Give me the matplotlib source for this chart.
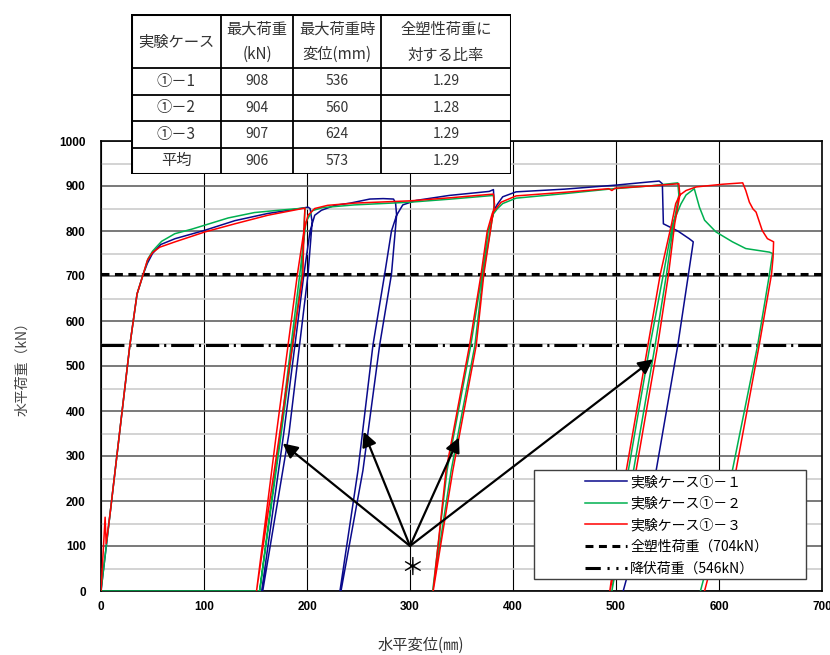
import matplotlib
matplotlib.use("Agg")
import matplotlib.pyplot as plt
from matplotlib.lines import Line2D
from matplotlib.patches import Rectangle

plt.rcParams["font.family"] = ["Noto Sans CJK JP", "DejaVu Sans"]

# ── data ────────────────────────────────────────────────────────────────────
# case ①-1 (blue)
x_c1 = [0, 20, 28, 35, 41, 45, 50, 58, 72, 100, 130, 162, 185, 201, 203, 205,
        201, 182.5, 157, 156, 177.4, 197, 203, 207.5, 214, 227, 242, 261, 274,
        284, 286, 287, 282, 270.5, 254.3, 233, 232, 249.5, 264, 275.4, 282,
        287, 293, 306, 338, 377, 381, 382, 385, 390, 403, 450, 500, 532, 542,
        545, 546, 560, 571, 575, 574, 560, 539, 507]
y_c1 = [0, 390, 546, 660, 704, 728, 750, 770, 783, 801, 823, 839, 847, 853, 850, 820,
        704, 350, 0, 0, 350, 704, 800, 835, 846, 857, 862, 871, 872,
        871, 862, 835, 704, 546, 268, 0, 0, 268, 546, 704, 800,
        835, 858, 868, 879, 888, 892, 848, 860, 876, 887, 893, 902, 909, 911,
        905, 816, 800, 783, 776, 760, 546, 268, 0]

# case ①-2 (green)
x_c2 = [154, 0, 20, 28, 35, 41, 45.8, 50, 58.8, 71.7, 88, 100.8, 123.5, 149, 172,
        198, 197, 195, 175, 154, 174, 193, 199, 205, 215, 246, 300, 340, 381,
        382, 371, 363, 340, 322, 336, 359, 370, 376, 381, 385, 390, 403, 450,
        493, 532, 560, 561, 556, 549, 538, 517, 496, 512, 533, 546, 555, 563,
        568, 576, 581, 586, 597, 613, 626, 649, 652, 649, 637.5, 613, 582]
y_c2 = [0, 0, 390, 546, 660, 704, 739, 755, 777, 794, 804, 813, 829, 841, 846,
        851, 800, 704, 350, 0, 350, 704, 820, 845, 852, 858, 864, 871, 879,
        858, 704, 546, 268, 0, 268, 546, 704, 800, 838, 850, 861, 873, 883,
        893, 900, 907, 880, 816, 704, 546, 268, 0, 268, 546, 704, 816, 860,
        880, 894, 853, 824, 798, 776, 761, 753, 750, 704, 546, 268, 0]

# case ①-3 (red)
x_c3 = [0, 4, 5, 9, 20, 28, 35, 41, 45, 50, 57, 72, 101, 130, 162, 198,
        197, 196, 173.5, 151, 170.3, 190.7, 197, 201, 207.5, 220, 246, 300, 340, 381,
        382, 371.7, 364.3, 341.6, 322.5, 335, 357.8, 369, 375, 380, 383.7, 388.5,
        403, 450, 493, 496, 499, 532, 561, 562, 557, 551, 540.5, 519.5, 494,
        510, 531, 543, 554, 558, 562, 568, 578, 604, 623, 626, 629.5, 633, 636,
        642, 647, 653, 652.5, 651, 639, 616.5, 586]
y_c3 = [0, 164, 105, 175, 390, 546, 660, 704, 735, 752, 764, 776, 798, 816, 835, 851,
        800, 704, 350, 0, 350, 704, 800, 835, 850, 857, 862, 867, 874, 882,
        860, 704, 546, 268, 0, 268, 546, 704, 800, 840, 850, 864,
        878, 886, 894, 890, 895, 900, 905, 880, 816, 704, 546, 268, 0,
        268, 546, 704, 816, 861, 880, 890, 898, 904, 907, 890, 864, 849, 842,
        801, 783, 776, 742, 704, 546, 268, 0]

full_plastic = 704
yield_load = 546

# arrows: common origin and the tips they point to
arrow_origin = (300, 100)
arrow_tips = [(176.5, 328), (255, 354), (347.5, 341), (536, 515)]

# summary table
table_header = ["実験ケース", "最大荷重\n(kN)", "最大荷重時\n変位(mm)", "全塑性荷重に\n対する比率"]
case_names = ["①－1", "①－2", "①－3", "平均"]
max_load = ["908", "904", "907", "906"]
max_disp = ["536", "560", "624", "573"]
ratio = ["1.29", "1.28", "1.29", "1.29"]

BLUE = "#0a0a8c"
GREEN = "#00b050"
RED = "#ff0000"

# ── figure ──────────────────────────────────────────────────────────────────
W, H = 830, 655
fig = plt.figure(figsize=(W / 100, H / 100), dpi=100)
ax = fig.add_axes([101 / W, 1 - 591 / H, 721 / W, 450 / H])

ax.set_xlim(0, 700)
ax.set_ylim(0, 1000)
ax.set_xticks(range(0, 701, 100))
ax.set_yticks(range(0, 1001, 100))
ax.set_yticks(range(50, 1000, 100), minor=True)
ax.grid(axis="y", which="minor", color="#c8c8c8", lw=1.1, zorder=0)
ax.grid(axis="y", which="major", color="#555555", lw=1.1, zorder=0)
ax.grid(axis="x", which="major", color="black", lw=0.8, zorder=0)
ax.tick_params(which="both", length=0)
ax.tick_params(axis="y", pad=11)
ax.tick_params(axis="x", pad=7)
for lab in ax.get_xticklabels() + ax.get_yticklabels():
    lab.set_family("Liberation Sans")
    lab.set_fontweight("bold")
    lab.set_fontsize(8.5)
for s in ax.spines.values():
    s.set_color("black")
    s.set_linewidth(1.2)

ax.plot(x_c1, y_c1, color=BLUE, lw=1.1, zorder=3)
ax.plot(x_c2, y_c2, color=GREEN, lw=1.1, zorder=3)
ax.plot(x_c3, y_c3, color=RED, lw=1.1, zorder=3)

ax.axhline(full_plastic, color="black", lw=2.2, ls=(0, (2.6, 1.8)), zorder=2)
ax.axhline(yield_load, color="black", lw=2.2, ls=(0, (7.5, 1.6, 0.7, 1.6)), zorder=2)

for tip in arrow_tips:
    ax.annotate("", xy=tip, xytext=arrow_origin,
                arrowprops=dict(arrowstyle="-|>", color="black", lw=1.6,
                                mutation_scale=22, shrinkA=0, shrinkB=0),
                zorder=4)
ax.text(arrow_origin[0] + 2, 50, "＊", fontsize=17, ha="center", va="center", zorder=4)

# legend: frame drawn as its own box, entries placed inside it
box = Rectangle(((534 - 101) / 721, (591 - 579) / 450), 272 / 721, 109 / 450,
                transform=ax.transAxes, facecolor="white", edgecolor="#404040",
                lw=1.0, zorder=5)
ax.add_patch(box)
handles = [
    Line2D([], [], color=BLUE, lw=1.1),
    Line2D([], [], color=GREEN, lw=1.1),
    Line2D([], [], color=RED, lw=1.1),
    Line2D([], [], color="black", lw=2.2, ls=(0, (2.6, 1.8))),
    Line2D([], [], color="black", lw=2.2, ls=(0, (5, 2.2, 0.7, 2.2, 0.7, 2.2))),
]
labels = ["実験ケース①－１", "実験ケース①－２", "実験ケース①－３",
          "全塑性荷重（704kN）", "降伏荷重（546kN）"]
leg = ax.legend(handles, labels, loc="upper left",
                bbox_to_anchor=((585 - 101) / 721, (591 - 475) / 450),
                frameon=False, borderpad=0, borderaxespad=0, handlelength=3.0,
                handletextpad=0.25, labelspacing=0.55, fontsize=10)
leg.set_zorder(6)

fig.text(421 / W, 1 - 645 / H, "水平変位(㎜)", ha="center", va="center",
         fontsize=11, color="#333333")
fig.text(22 / W, 1 - 365 / H, "水平荷重（kN）", ha="center", va="center",
         rotation=90, fontsize=10, color="#444444")

# ── summary table on top of the plot ───────────────────────────────────────
tax = fig.add_axes([131 / W, 1 - 174 / H, 380 / W, 160 / H], zorder=10)
tax.set_xlim(0, 380)
tax.set_ylim(160, 0)
tax.axis("off")
tax.add_patch(Rectangle((0, 0), 380, 160, facecolor="white", edgecolor="none"))
col_edges = [0, 90, 162, 250, 380]
row_edges = [0, 54, 80.5, 107, 133.5, 160]
for xe in col_edges[1:-1]:
    tax.plot([xe, xe], [0, 160], color="black", lw=1.3)
for ye in row_edges[1:-1]:
    tax.plot([0, 380], [ye, ye], color="black", lw=1.3)
tax.add_patch(Rectangle((0, 0), 380, 160, facecolor="none", edgecolor="black", lw=2.2))

for j, head in enumerate(table_header):
    cx = (col_edges[j] + col_edges[j + 1]) / 2
    tax.text(cx, 28, head, ha="center", va="center", fontsize=11,
             color="#333333", linespacing=1.65)
columns = [case_names, max_load, max_disp, ratio]
for i in range(len(case_names)):
    cy = (row_edges[i + 1] + row_edges[i + 2]) / 2
    for j, col in enumerate(columns):
        cx = (col_edges[j] + col_edges[j + 1]) / 2
        tax.text(cx, cy, col[i], ha="center", va="center",
                 fontsize=11 if j == 0 else 10, color="#333333")

fig.savefig("out.png", dpi=100)
